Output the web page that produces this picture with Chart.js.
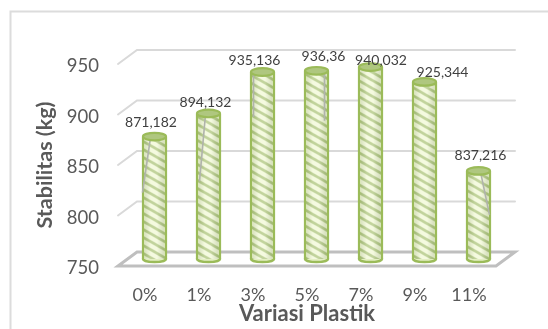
<!DOCTYPE html>
<html>
<head>
    <title>Stabilitas</title>
    <script src="https://cdn.jsdelivr.net/npm/chart.js"></script>
    <style>
        html, body { margin: 0; padding: 0; background: white; }
        canvas { display: block; }
    </style>
</head>
<body>
<canvas id="stabilitasChart" width="548" height="329"></canvas>

<script>
// Datos
const categories = ['0%', '1%', '3%', '5%', '7%', '9%', '11%'];
const stabilitas = [871.182, 894.132, 935.136, 936.36, 940.032, 925.344, 837.216];
const valueTicks = [750, 800, 850, 900, 950];

// Label offsets from the top of each bar, set by hand to keep them clear of the caps
const labelOffsets = [[-3.5, -14.5], [-3, -10.5], [-8, -12], [7, -14], [10.5, -7], [18, -9.5], [2, -15]];
// Grey seams on some cylinders: bar index, then x/y from the bar top for both ends
const seams = [
    [0, -4, 1, -12, 56],
    [1, -3, 1, -9, 68],
    [2, -9, 0, -9, 45],
    [3, 8, 0, 8, 50],
    [6, 2, 1, 11, 44]
];

// Depth of the 3D box: the bars stand halfway in, the walls at the full depth
const depthX = 19, depthY = 14;
const capRadiusY = 3.8;
const green = '#9bbb59';

function stripePattern() {
    const tile = document.createElement('canvas');
    tile.width = 14;
    tile.height = 8;
    const c = tile.getContext('2d');
    c.fillStyle = '#f0f8d2';
    c.fillRect(0, 0, 14, 8);
    c.strokeStyle = '#a6c070';
    c.lineWidth = 2.8;
    [-8, 0, 8].forEach(off => {
        c.beginPath();
        c.moveTo(-1.75, off - 1);
        c.lineTo(15.75, off + 9);
        c.stroke();
    });
    return document.createElement('canvas').getContext('2d').createPattern(tile, 'repeat');
}

const stripes = stripePattern();

const cylinder3d = {
    id: 'cylinder3d',
    beforeDraw(chart) {
        const ctx = chart.ctx;
        ctx.save();
        ctx.strokeStyle = '#dcdcdc';
        ctx.lineWidth = 2;
        ctx.beginPath();
        ctx.moveTo(10.5, 329);
        ctx.lineTo(10.5, 11.5);
        ctx.lineTo(548, 11.5);
        ctx.stroke();
        ctx.restore();
    },
    beforeDatasetsDraw(chart) {
        const ctx = chart.ctx;
        const { left, right } = chart.chartArea;
        const yScale = chart.scales.y;
        ctx.save();
        ctx.lineCap = 'round';

        // Side and back wall gridlines
        ctx.strokeStyle = '#d9d9d9';
        ctx.lineWidth = 2;
        valueTicks.slice(1).forEach(v => {
            const y = yScale.getPixelForValue(v);
            ctx.beginPath();
            ctx.moveTo(left, y);
            ctx.lineTo(left + depthX, y - depthY);
            ctx.lineTo(right + depthX, y - depthY);
            ctx.stroke();
        });

        // Floor
        const floorY = yScale.getPixelForValue(valueTicks[0]);
        ctx.strokeStyle = '#bfbfbf';
        ctx.lineWidth = 3;
        ctx.lineJoin = 'miter';
        ctx.beginPath();
        ctx.moveTo(left, floorY);
        ctx.lineTo(left + depthX, floorY - depthY);
        ctx.lineTo(right + depthX, floorY - depthY);
        ctx.lineTo(right, floorY);
        ctx.closePath();
        ctx.stroke();
        ctx.restore();

        // Bars are moved into the box until afterDatasetsDraw
        ctx.save();
        ctx.translate(depthX / 2, -depthY / 2);

        chart.getDatasetMeta(0).data.forEach(bar => {
            ctx.beginPath();
            ctx.ellipse(bar.x, bar.base, bar.width / 2 - 1, capRadiusY - 0.8, 0, 0, Math.PI * 2);
            ctx.fillStyle = '#e4efc4';
            ctx.fill();
            ctx.strokeStyle = green;
            ctx.lineWidth = 2.5;
            ctx.stroke();
        });
    },
    afterDatasetsDraw(chart) {
        const ctx = chart.ctx;
        const bars = chart.getDatasetMeta(0).data;

        bars.forEach(bar => {
            // Round shading across the cylinder
            const half = bar.width / 2;
            const shade = ctx.createLinearGradient(bar.x - half, 0, bar.x + half, 0);
            shade.addColorStop(0, 'rgba(120,135,100,0.28)');
            shade.addColorStop(0.35, 'rgba(255,255,255,0.30)');
            shade.addColorStop(0.6, 'rgba(255,255,255,0.32)');
            shade.addColorStop(1, 'rgba(110,125,95,0.28)');
            ctx.fillStyle = shade;
            ctx.fillRect(bar.x - half + 2.5, bar.y, bar.width - 5, bar.base - bar.y);
        });

        ctx.strokeStyle = '#b0b3ac';
        ctx.lineWidth = 1.6;
        seams.forEach(([i, x1, y1, x2, y2]) => {
            ctx.beginPath();
            ctx.moveTo(bars[i].x + x1, bars[i].y + y1);
            ctx.lineTo(bars[i].x + x2, bars[i].y + y2);
            ctx.stroke();
        });

        bars.forEach(bar => {
            ctx.beginPath();
            ctx.ellipse(bar.x, bar.y, bar.width / 2 - 1, capRadiusY, 0, 0, Math.PI * 2);
            ctx.fillStyle = '#afc77f';
            ctx.fill();
            ctx.strokeStyle = green;
            ctx.lineWidth = 2.2;
            ctx.stroke();
        });

        ctx.font = '14px Lato';
        ctx.fillStyle = '#404040';
        ctx.textAlign = 'center';
        ctx.textBaseline = 'middle';
        bars.forEach((bar, i) => {
            const text = String(stabilitas[i]).replace('.', ',');
            ctx.fillText(text, bar.x + labelOffsets[i][0], bar.y + labelOffsets[i][1]);
        });

        ctx.restore();
    }
};

new Chart(document.getElementById('stabilitasChart'), {
    type: 'bar',
    plugins: [cylinder3d],
    data: {
        labels: categories,
        datasets: [{
            label: 'Stabilitas (kg)',
            data: stabilitas,
            base: valueTicks[0],
            backgroundColor: stripes,
            borderColor: green,
            borderWidth: { left: 2.5, right: 2.5, top: 0, bottom: 0 },
            borderSkipped: false,
            barThickness: 25,
            clip: false
        }]
    },
    options: {
        responsive: false,
        animation: false,
        layout: { padding: { left: 32, right: 52, top: 64, bottom: 2 } },
        plugins: {
            legend: { display: false },
            tooltip: { enabled: false }
        },
        scales: {
            x: {
                grid: { display: false, drawTicks: false },
                border: { display: false },
                ticks: { color: '#595959', font: { family: 'Lato', size: 18 }, padding: 18, maxRotation: 0, autoSkip: false },
                title: {
                    display: true,
                    text: 'Variasi Plastik',
                    color: '#595959',
                    font: { family: 'Lato', size: 22, weight: 'bold' },
                    padding: 0
                },
                afterFit(scale) { scale.height = 61; }
            },
            y: {
                min: 750,
                max: 950,
                grid: { display: false, drawTicks: false },
                border: { display: false },
                afterBuildTicks(scale) { scale.ticks = valueTicks.map(v => ({ value: v })); },
                ticks: { color: '#595959', font: { family: 'Lato', size: 18.5 }, padding: 19, labelOffset: 2.5 },
                title: {
                    display: true,
                    text: 'Stabilitas (kg)',
                    color: '#595959',
                    font: { family: 'Lato', size: 21.5, weight: 'bold' },
                    padding: 0
                },
                afterFit(scale) { scale.width = 86; }
            }
        }
    }
});
</script>
</body>
</html>
